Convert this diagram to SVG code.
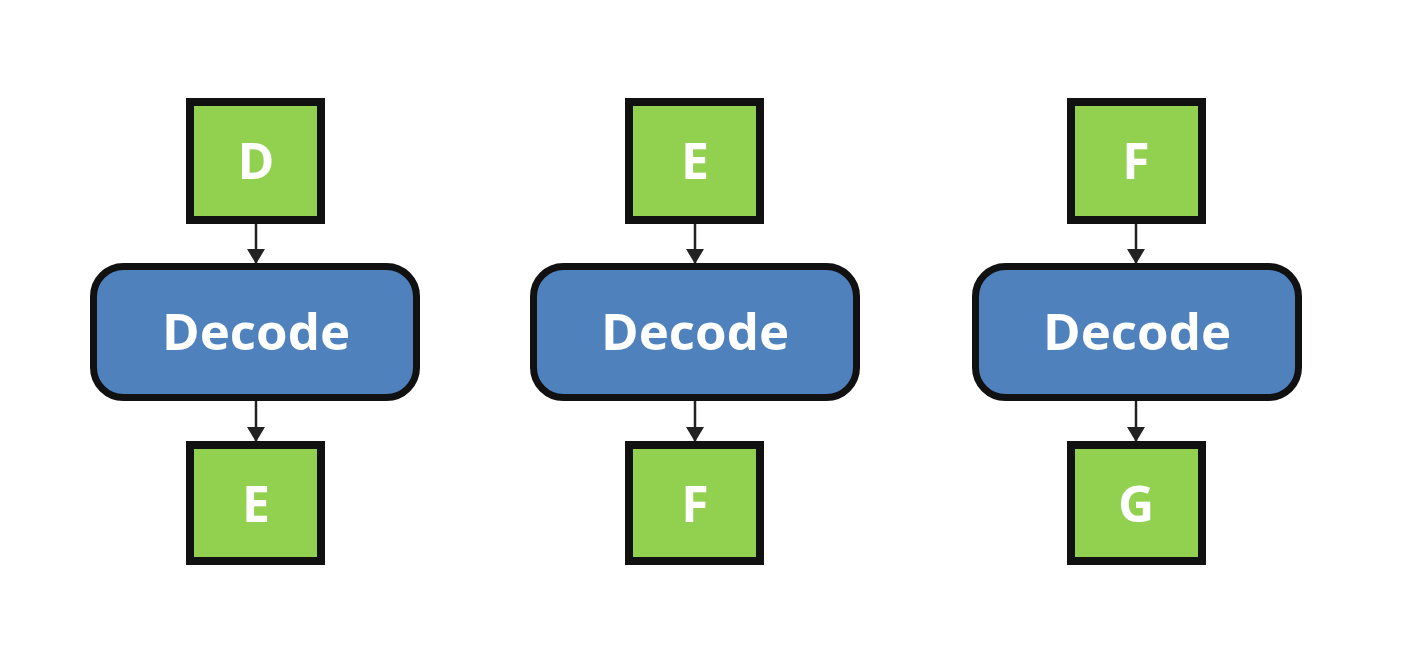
<svg xmlns="http://www.w3.org/2000/svg" width="1402" height="669" viewBox="0 0 1402 669">
<style>
.sq{fill:#92D050;stroke:#111;stroke-width:8}
.dec{fill:#4F81BD;stroke:#111;stroke-width:7}
.t{fill:#fff;font-family:"Open Sans","Noto Sans",sans-serif;font-weight:bold;text-anchor:middle}
.ts{font-size:50px}
.td{font-size:51px}
.c{stroke:#222;stroke-width:2.5;fill:none;marker-end:url(#ah)}
</style>
<defs>
<marker id="ah" markerUnits="userSpaceOnUse" markerWidth="15" markerHeight="18" refX="15" refY="9" orient="auto">
<path d="M0,0 L15,9 L0,18 Z" fill="#222"/>
</marker>
</defs>
<rect width="1402" height="669" fill="#fff"/>
<g id="connectors">
<line class="c" x1="256" y1="224" x2="256" y2="264"/>
<line class="c" x1="256" y1="401" x2="256" y2="442"/>
<line class="c" x1="695" y1="224" x2="695" y2="264"/>
<line class="c" x1="695" y1="401" x2="695" y2="442"/>
<line class="c" x1="1136" y1="224" x2="1136" y2="264"/>
<line class="c" x1="1136" y1="401" x2="1136" y2="442"/>
</g>
<g id="in1"><rect class="sq" x="190" y="102" width="131" height="118"/><text class="t ts" x="256" y="179">D</text></g>
<g id="dec1"><rect class="dec" x="93.5" y="266.5" width="323" height="131" rx="30"/><text class="t td" x="256" y="350">Decode</text></g>
<g id="out1"><rect class="sq" x="190" y="445" width="131" height="116"/><text class="t ts" x="256" y="522">E</text></g>
<g id="in2"><rect class="sq" x="629" y="102" width="131" height="118"/><text class="t ts" x="695" y="179">E</text></g>
<g id="dec2"><rect class="dec" x="533.5" y="266.5" width="323" height="131" rx="30"/><text class="t td" x="695" y="350">Decode</text></g>
<g id="out2"><rect class="sq" x="629" y="445" width="131" height="116"/><text class="t ts" x="695" y="522">F</text></g>
<g id="in3"><rect class="sq" x="1071" y="102" width="131" height="118"/><text class="t ts" x="1136" y="179">F</text></g>
<g id="dec3"><rect class="dec" x="975.5" y="266.5" width="323" height="131" rx="30"/><text class="t td" x="1137" y="350">Decode</text></g>
<g id="out3"><rect class="sq" x="1071" y="445" width="131" height="116"/><text class="t ts" x="1136" y="522">G</text></g>
</svg>
